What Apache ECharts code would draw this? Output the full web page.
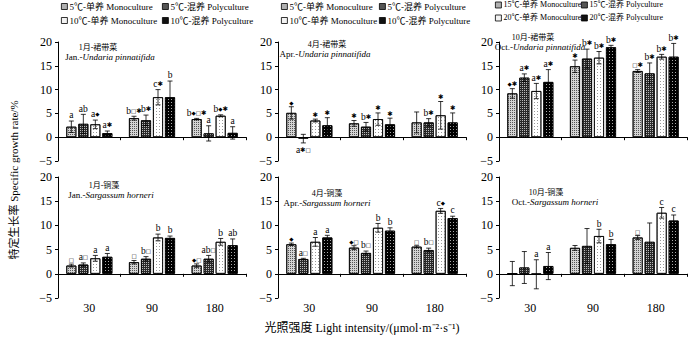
<!DOCTYPE html>
<html><head><meta charset="utf-8">
<script src="https://cdn.jsdelivr.net/npm/echarts@6/dist/echarts.min.js"></script>
<style>html,body{margin:0;padding:0;background:#fff}#c{width:700px;height:343px}</style>
</head><body><div id="c"></div>
<script>
// ---------- DATA ----------
const categories = ['30', '90', '180'];
const namesLow = ['5℃-单养 Monoculture', '5℃-混养 Polyculture', '10℃-单养 Monoculture', '10℃-混养 Polyculture'];
const namesHigh = ['15℃-单养 Monoculture', '15℃-混养 Polyculture', '20℃-单养 Monoculture', '20℃-混养 Polyculture'];

// Panel 1: 1月-裙带菜
const p1Vals = [[2.2, 4.0, 3.8], [2.8, 3.55, 0.8], [2.7, 8.4, 4.5], [0.85, 8.4, 0.9]];
const p1Errs = [[1.2, 0.4, 0.15], [2.0, 1.1, 1.6], [0.9, 1.6, 0.2], [0.45, 3.4, 1.3]];
const p1Labels = [['a', 'b□*', 'b◆□*'], ['ab', 'b*', 'a'], ['a◆', 'c*', 'b◆*'], ['a*', 'b', 'a']];
// Panel 2: 4月-裙带菜
const p2Vals = [[5.1, 2.9, 3.1], [-0.3, 2.2, 3.1], [3.5, 3.8, 4.6], [2.5, 2.7, 3.1]];
const p2Errs = [[1.3, 0.6, 2.2], [0.9, 0.9, 0.8], [0.3, 1.3, 2.9], [1.6, 1.3, 2.0]];
const p2Labels = [['◆', '*', ''], ['a*□', 'b*', 'b*'], ['*', '*', '*'], ['*', '*', '*']];
// Panel 3: 10月-裙带菜
const p3Vals = [[9.2, 14.9, 13.9], [12.5, 16.5, 13.4], [9.7, 16.7, 16.9], [11.6, 18.9, 16.9]];
const p3Errs = [[1.0, 1.3, 0.3], [0.8, 2.0, 2.2], [1.6, 1.3, 0.5], [2.6, 0.4, 2.8]];
const p3Labels = [['◆*', '*', '□*'], ['a*', 'b*', 'b*'], ['a*', 'b*', 'b*'], ['a*', 'b*', 'b*']];
// Panel 4: 1月-铜藻
const p4Vals = [[1.7, 2.4, 1.7], [1.9, 3.1, 3.1], [3.2, 7.5, 6.6], [3.5, 7.4, 5.9]];
const p4Errs = [[0.3, 0.35, 0.35], [0.35, 0.45, 0.7], [0.6, 0.7, 0.7], [0.7, 0.4, 1.3]];
const p4Labels = [['□', '□', '◆□'], ['a□', 'b□', 'ab□'], ['a', 'b', 'b'], ['a', 'b', 'ab']];
// Panel 5: 4月-铜藻
const p5Vals = [[6.1, 5.4, 5.6], [3.05, 4.3, 4.9], [6.6, 9.5, 13.0], [7.5, 8.9, 11.5]];
const p5Errs = [[0.25, 0.4, 0.2], [0.15, 0.4, 0.4], [0.9, 0.9, 0.5], [0.45, 0.6, 0.4]];
const p5Labels = [['◆', '◆□', '□'], ['a□', 'b□', 'b□'], ['a', 'b', 'c◆'], ['a', 'b', 'c']];
// Panel 6: 10月-铜藻
const p6Vals = [[0.05, 5.35, 7.5], [1.3, 5.75, 6.6], [-0.1, 7.8, 12.6], [1.6, 6.1, 11.0]];
const p6Errs = [[2.5, 0.5, 0.4], [3.3, 3.6, 3.9], [3.0, 1.4, 1.1], [2.8, 1.0, 1.15]];
const p6Labels = [['', '', '□'], ['', '', ''], ['a', 'b', 'c'], ['a', 'b', 'c']];
// labels drawn under the error bar: [panel, series, category]
const labelsBelow = [[1, 1, 0]];

const titlesCN = ['1月-裙带菜', '4月-裙带菜', '10月-裙带菜', '1月-铜藻', '4月-铜藻', '10月-铜藻'];
const titlesEnPrefix = ['Jan.-', 'Apr.-', 'Oct.-', 'Jan.-', 'Apr.-', 'Oct.-'];
const titlesSpecies = ['Undaria pinnatifida', 'Undaria pinnatifida', 'Undaria pinnatifida', 'Sargassum horneri', 'Sargassum horneri', 'Sargassum horneri'];
const yTicks = { min: -5, max: 20, interval: 5 };

// ---------- STYLE / LAYOUT ----------
const FONT = "'Liberation Serif', 'Noto Sans CJK SC', serif";
const panels = [
  { vals: p1Vals, errs: p1Errs, labels: p1Labels, names: namesLow },
  { vals: p2Vals, errs: p2Errs, labels: p2Labels, names: namesLow },
  { vals: p3Vals, errs: p3Errs, labels: p3Labels, names: namesHigh },
  { vals: p4Vals, errs: p4Errs, labels: p4Labels, names: namesLow },
  { vals: p5Vals, errs: p5Errs, labels: p5Labels, names: namesLow },
  { vals: p6Vals, errs: p6Errs, labels: p6Labels, names: namesHigh }
];
const gridBoxes = [
  { left: 58, top: 42, width: 188, height: 119 },
  { left: 278, top: 42, width: 188, height: 119 },
  { left: 499, top: 42, width: 188, height: 119 },
  { left: 58, top: 177, width: 188, height: 121 },
  { left: 278, top: 177, width: 188, height: 121 },
  { left: 499, top: 177, width: 188, height: 121 }
];
const titlePos = [
  [98, 47, 110, 57], [327, 44, 325, 54], [533, 37, 540, 47],
  [104, 185, 111, 195], [327, 193, 327, 203], [546, 192, 555, 202]
];
const barStyles = [
  { color: '#d4d4d4', decal: { symbol: 'rect', color: '#555', dashArrayX: [1, 1], dashArrayY: [1, 1], symbolSize: 1 } },
  { color: '#2a2a2a', decal: { symbol: 'rect', color: '#bbb', dashArrayX: [1, 1], dashArrayY: [1, 1], symbolSize: 1 } },
  { color: '#ffffff', decal: { symbol: 'rect', color: '#999', dashArrayX: [1, 2], dashArrayY: [1, 2], symbolSize: 1 } },
  { color: '#000000', decal: { symbol: 'rect', color: '#aaa', dashArrayX: [1, 2], dashArrayY: [1, 2], symbolSize: 1 } }
];
const legendIconColors = ['#b0b0b0', '#555555', '#f2f2f2', '#111111'];
const BAR_W = 10, BAR_STEP = 12;

const labelRich = {
  t: { fontFamily: FONT, fontSize: 9.5, fill: '#000' },
  s: { fontFamily: "'DejaVu Sans', sans-serif", fontSize: 6.5, fontWeight: 'bold', fill: '#000' },
  d: { fontFamily: "'DejaVu Sans', sans-serif", fontSize: 5.5, fill: '#000' },
  q: { fontFamily: "'DejaVu Sans', sans-serif", fontSize: 5.5, fill: '#000' }
};
function toRich(lab) {
  let out = '';
  for (const ch of lab) {
    if (ch === '*') out += '{s|✱}';
    else if (ch === '◆') out += '{d|◆}';
    else if (ch === '□') out += '{q|□}';
    else out += '{t|' + ch + '}';
  }
  return out;
}

const grid = [], xAxis = [], yAxis = [], series = [], graphic = [];
panels.forEach((p, i) => {
  grid.push(gridBoxes[i]);
  yAxis.push({
    type: 'value', gridIndex: i, min: yTicks.min, max: yTicks.max, interval: yTicks.interval,
    axisLine: { show: true, lineStyle: { color: '#000', width: 1 } },
    axisTick: { show: true, length: 3, lineStyle: { color: '#000' } },
    splitLine: { show: false },
    axisLabel: { fontFamily: FONT, fontSize: 12, color: '#000', margin: 6,
      formatter: v => v < 0 ? '−' + Math.abs(v) : String(v) }
  });
  const xMain = xAxis.length;
  xAxis.push({
    type: 'category', gridIndex: i, data: categories,
    axisLine: { onZero: true, lineStyle: { color: '#000', width: 1 } },
    axisTick: { show: true, length: 3, lineStyle: { color: '#000' } },
    axisLabel: { show: false }
  });
  if (i >= 3) {
    xAxis.push({
      type: 'category', gridIndex: i, data: categories, position: 'bottom',
      axisLine: { show: false, onZero: false }, axisTick: { show: false },
      axisLabel: { fontFamily: FONT, fontSize: 12, color: '#000', margin: 4 }
    });
  }
  for (let s = 0; s < 4; s++) {
    series.push({
      type: 'bar', name: p.names[s], xAxisIndex: xMain, yAxisIndex: i,
      data: p.vals[s], barWidth: BAR_W, barGap: '20%',
      itemStyle: { color: barStyles[s].color, decal: barStyles[s].decal, borderColor: '#000', borderWidth: 0.8 },
      emphasis: { disabled: true }, animation: false
    });
  }
  const edata = [];
  for (let s = 0; s < 4; s++) for (let c = 0; c < 3; c++) edata.push([c, p.vals[s][c], p.errs[s][c], s]);
  series.push({
    type: 'custom', xAxisIndex: xMain, yAxisIndex: i, data: edata, z: 10, animation: false, silent: true,
    renderItem: (params, api) => {
      const c = api.value(0), v = api.value(1), e = api.value(2), s = api.value(3);
      const off = (s - 1.5) * BAR_STEP;
      const top = api.coord([c, v + e]), bot = api.coord([c, v - e]);
      const x = top[0] + off;
      const ls = { stroke: '#000', lineWidth: 0.8 };
      const children = [
        { type: 'line', shape: { x1: x, y1: top[1], x2: x, y2: bot[1] }, style: ls },
        { type: 'line', shape: { x1: x - 2.5, y1: top[1], x2: x + 2.5, y2: top[1] }, style: ls },
        { type: 'line', shape: { x1: x - 2.5, y1: bot[1], x2: x + 2.5, y2: bot[1] }, style: ls }
      ];
      const lab = p.labels[s][c];
      if (lab) {
        const below = labelsBelow.some(b => b[0] === i && b[1] === s && b[2] === c);
        children.push({
          type: 'text',
          style: { text: toRich(lab), rich: labelRich, x: x, y: below ? bot[1] + 2 : top[1] - 1, align: 'center',
            verticalAlign: below ? 'top' : 'bottom' }
        });
      }
      return { type: 'group', children };
    }
  });
  const tp = titlePos[i];
  graphic.push({ type: 'text', x: tp[0], y: tp[1], style: { text: titlesCN[i], align: 'center', verticalAlign: 'middle', fontFamily: FONT, fontSize: 8, fill: '#000' } });
  graphic.push({ type: 'text', x: tp[2], y: tp[3], style: {
    text: '{n|' + titlesEnPrefix[i] + '}{i|' + titlesSpecies[i] + '}', align: 'center', verticalAlign: 'middle',
    rich: { n: { fontFamily: FONT, fontSize: 9, fill: '#000' }, i: { fontFamily: FONT, fontSize: 9, fontStyle: 'italic', fill: '#000' } } } });
});

// legends: one per item to control positions [name, style index, left, top, fontSize]
const legendPos = [
  [namesLow[0], 0, 61, 2, 9], [namesLow[1], 1, 162, 2, 9], [namesLow[2], 2, 61, 16, 9], [namesLow[3], 3, 162, 16, 9],
  [namesLow[0], 0, 281, 2, 9], [namesLow[1], 1, 379, 2, 9], [namesLow[2], 2, 281, 16, 9], [namesLow[3], 3, 379, 16, 9],
  [namesHigh[0], 0, 495, 1, 8], [namesHigh[1], 1, 581, 1, 8], [namesHigh[2], 2, 495, 14, 8], [namesHigh[3], 3, 581, 14, 8]
];
const legend = legendPos.map(l => ({
  data: [{ name: l[0], itemStyle: { color: legendIconColors[l[1]], borderColor: '#000', borderWidth: 0.8, decal: 'none' } }],
  left: l[2], top: l[3], padding: 0, itemWidth: 6, itemHeight: 6, itemGap: 0,
  icon: 'rect', selectedMode: false,
  textStyle: { fontFamily: FONT, fontSize: l[4], color: '#000', padding: [0, 0, 0, -3] }
}));

graphic.push({ type: 'text', x: 362, y: 328, style: { text: '光照强度 Light intensity/(μmol·m⁻²·s⁻¹)', align: 'center', verticalAlign: 'middle', fontFamily: FONT, fontSize: 12, fill: '#000' } });
graphic.push({ type: 'text', x: 14, y: 180, rotation: Math.PI / 2, style: { text: '特定生长率 Specific growth rate/%', align: 'center', verticalAlign: 'middle', fontFamily: FONT, fontSize: 11, fill: '#000' } });

const chart = echarts.init(document.getElementById('c'), null, { renderer: 'svg' });
chart.setOption({ animation: false, backgroundColor: '#fff', grid, xAxis, yAxis, series, legend, graphic });
</script></body></html>
